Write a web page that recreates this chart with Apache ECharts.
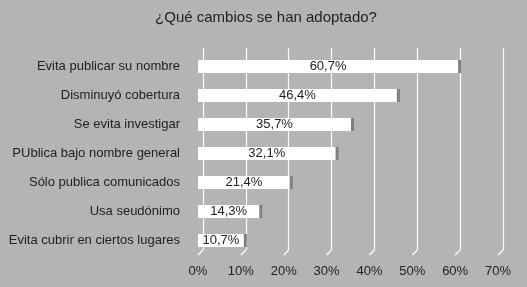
<!DOCTYPE html>
<html>
<head>
<meta charset="utf-8">
<script src="https://cdn.jsdelivr.net/npm/echarts@6/dist/echarts.min.js"></script>
<style>
  html, body { margin: 0; padding: 0; background: #b4b4b4; }
  #chart { width: 527px; height: 287px; }
</style>
</head>
<body>
<div id="chart"></div>
<script>
const title = "¿Qué cambios se han adoptado?";
const categories = [
  "Evita publicar su nombre",
  "Disminuyó cobertura",
  "Se evita investigar",
  "PUblica bajo nombre general",
  "Sólo publica comunicados",
  "Usa seudónimo",
  "Evita cubrir en ciertos lugares"
];
const values = [60.7, 46.4, 35.7, 32.1, 21.4, 14.3, 10.7];
const ticks = [0, 10, 20, 30, 40, 50, 60, 70];

const chart = echarts.init(document.getElementById("chart"));
const font = "Liberation Sans, Arial, sans-serif";

// short diagonal from back wall grid line down to the front floor
const floorLines = (params, api) => {
  const front = api.coord([api.value(0), 0]);
  const top = params.coordSys.y;
  const bottom = top + params.coordSys.height;
  return {
    type: "line",
    shape: { x1: front[0] + 5, y1: bottom - 5, x2: front[0], y2: bottom },
    style: { stroke: "#ffffff", lineWidth: 1.2 }
  };
};

chart.setOption({
  animation: false,
  backgroundColor: "#b4b4b4",
  title: {
    text: title,
    left: 261,
    textAlign: "center",
    top: 5,
    textStyle: { fontFamily: font, fontSize: 15, fontWeight: "normal", color: "#222" }
  },
  grid: [
    { left: 203, top: 48, width: 300, height: 202 },
    { left: 198, top: 52, width: 300, height: 203 }
  ],
  xAxis: [
    {
      gridIndex: 0, type: "value", min: 0, max: 70, interval: 10,
      axisLine: { show: false }, axisTick: { show: false }, axisLabel: { show: false },
      splitLine: { show: true, lineStyle: { color: "#ffffff", width: 1.2 } }
    },
    {
      gridIndex: 1, type: "value", min: 0, max: 70, interval: 10,
      axisLine: { show: false }, axisTick: { show: false },
      splitLine: { show: false },
      axisLabel: {
        formatter: (v) => v + "%", margin: 10,
        fontFamily: font, fontSize: 13, color: "#222"
      }
    }
  ],
  yAxis: [
    {
      gridIndex: 0, type: "category", data: categories, inverse: true,
      axisLine: { show: false }, axisTick: { show: false }, axisLabel: { show: false },
      splitArea: { show: true, areaStyle: { color: ["rgba(0,0,0,0)"] } }
    },
    {
      gridIndex: 1, type: "category", data: categories, inverse: true,
      axisLine: { show: false }, axisTick: { show: false },
      axisLabel: { margin: 18, fontFamily: font, fontSize: 13, color: "#222" }
    }
  ],
  series: [
    {
      type: "custom",
      xAxisIndex: 1, yAxisIndex: 1,
      renderItem: floorLines,
      data: ticks.map((t) => [t]),
      silent: true
    },
    {
      type: "bar",
      xAxisIndex: 1, yAxisIndex: 1,
      data: values,
      barWidth: 13,
      itemStyle: {
        color: "#ffffff",
        shadowColor: "#7f7f7f",
        shadowOffsetX: 3,
        shadowBlur: 0
      },
      label: {
        show: true,
        position: "inside",
        formatter: (p) => p.value.toFixed(1).replace(".", ",") + "%",
        fontFamily: font, fontSize: 13, color: "#222"
      }
    }
  ]
});
</script>
</body>
</html>
